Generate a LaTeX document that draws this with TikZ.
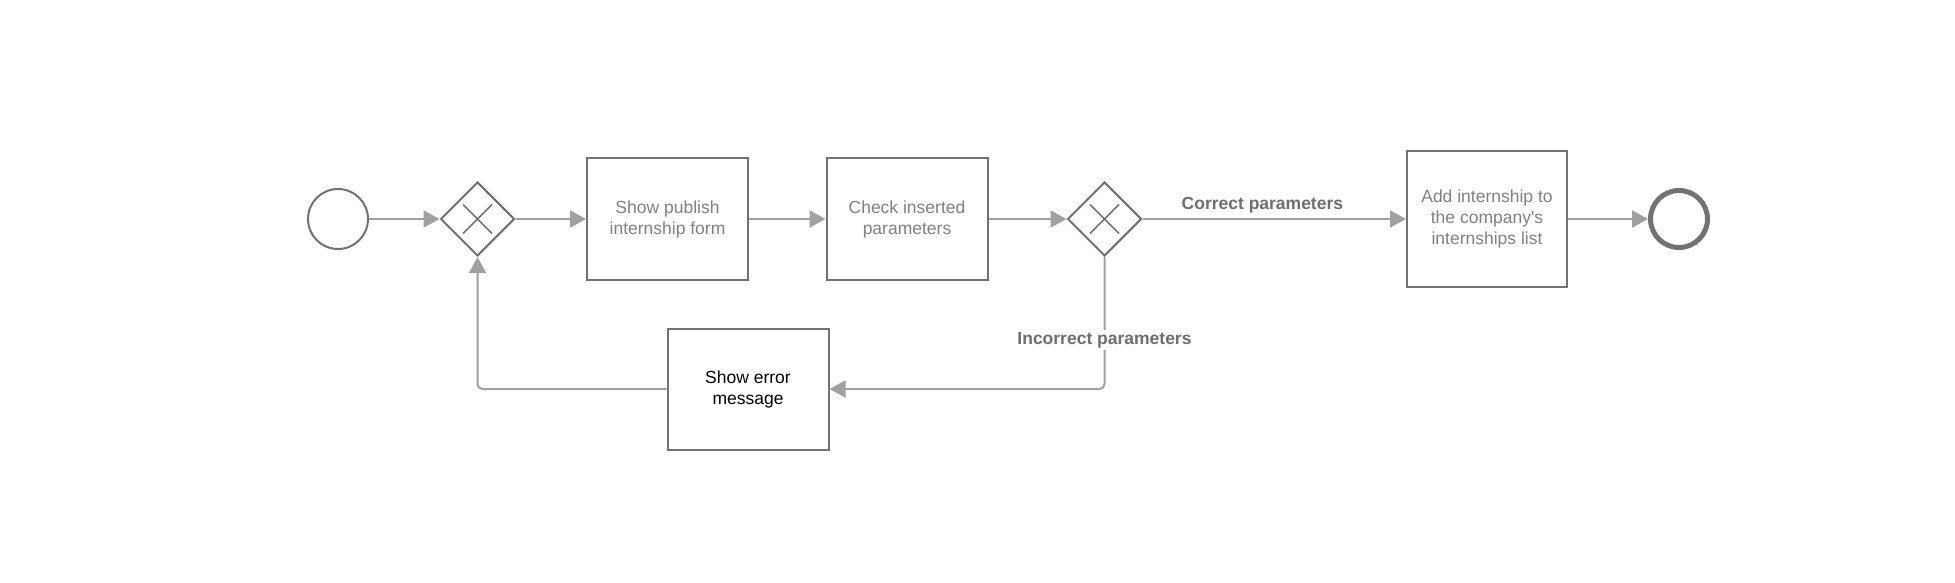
\documentclass[tikz,border=0pt]{standalone}
\usepackage{fontspec}
\setmainfont{Liberation Sans}
\usetikzlibrary{shapes.geometric,arrows.meta}
\definecolor{boxline}{HTML}{727272}
\definecolor{conn}{HTML}{A0A0A0}
\definecolor{txtgray}{HTML}{808080}
\definecolor{lblgray}{HTML}{6E6E6E}
\tikzset{
  task/.style={draw=boxline, line width=2pt, rectangle, minimum width=161pt, minimum height=121pt, align=center, inner sep=2pt, font=\fontsize{17.5}{21}\selectfont},
  gate/.style={draw=boxline, line width=2pt, diamond, shape aspect=1, minimum size=74pt, inner sep=0pt,
    path picture={\draw[boxline, line width=1.6pt] ([shift={(-14.5pt,-14.5pt)}]path picture bounding box.center) -- ([shift={(14.5pt,14.5pt)}]path picture bounding box.center)
      ([shift={(-14.5pt,14.5pt)}]path picture bounding box.center) -- ([shift={(14.5pt,-14.5pt)}]path picture bounding box.center);}},
  flow/.style={draw=conn, line width=2pt, -{Triangle[length=16pt,width=17pt]}, rounded corners=5pt},
  lbl/.style={font=\bfseries\fontsize{17.5}{21}\selectfont, text=lblgray, inner sep=2pt}
}
\begin{document}
\begin{tikzpicture}[x=1pt,y=-1pt]
\useasboundingbox (0,0) rectangle (1955,583);
\node[circle, draw=boxline, line width=2pt, minimum size=60pt, inner sep=0pt] (start) at (338,219) {};
\node[gate] (g1) at (477.5,219) {};
\node[task, text=txtgray] (t1) at (667.5,219) {Show publish\\internship form};
\node[task, text=txtgray] (t2) at (907,219) {Check inserted\\parameters};
\node[gate] (g2) at (1104.5,219) {};
\node[task, text=txtgray, minimum height=135pt, minimum width=160pt] (t3) at (1487,219) {Add internship to\\the company\textquotesingle s\\internships list};
\node[circle, draw=boxline, line width=5pt, minimum size=57pt, inner sep=0pt] (end) at (1679,219) {};
\node[task, text=black] (err) at (748,389) {Show error\\message};
\coordinate (c1) at (1104.5,389);
\coordinate (c2) at (477.5,389);
\draw[flow] (start) -- (g1);
\draw[flow] (g1) -- (t1);
\draw[flow] (t1) -- (t2);
\draw[flow] (t2) -- (g2);
\draw[flow] (g2) -- node[lbl, above=3pt, pos=0.455] {Correct parameters} (t3);
\draw[flow] (t3) -- (end);
\draw[flow] (g2.south) -- (c1) -- (err.east);
\node[lbl, fill=white] (inc) at (1104.5,340) {Incorrect parameters};
\draw[flow] (err.west) -- (c2) -- (g1.south);
\end{tikzpicture}
\end{document}
